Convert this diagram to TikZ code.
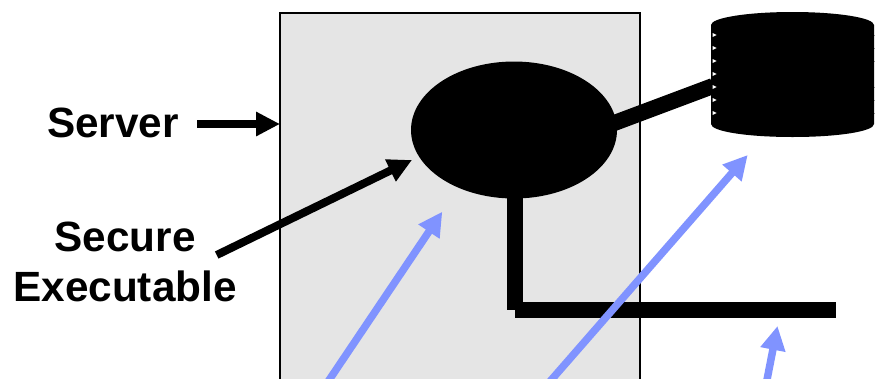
\documentclass[tikz,border=0pt]{standalone}
\usepackage{fontspec}
\setmainfont{Liberation Sans}
\usetikzlibrary{arrows.meta,shapes.geometric}
\definecolor{panelgray}{HTML}{E5E5E5}
\definecolor{arrowblue}{HTML}{8093FF}
\tikzset{
  lbl/.style={font=\fontsize{42.3}{50}\selectfont\bfseries,align=center,inner sep=0pt},
  thick link/.style={line width=16pt,black},
  black arrow/.style={line width=8pt,black,-{Triangle[length=24pt,width=23pt]}},
  blue arrow/.style={line width=7.5pt,arrowblue,-{Triangle[length=24pt,width=24pt]}},
  tick/.style={fill=white,draw=none},
  edge tick/.style={draw=black!45,line width=0.7pt}
}
\begin{document}
\begin{tikzpicture}[x=1pt,y=-1pt]
\useasboundingbox (0,0) rectangle (875,378);
\begin{scope}
\clip (0,0) rectangle (875,378);
\fill[panelgray] (280,13) rectangle (640,390);
\draw[black,line width=1.3pt] (280,390) -- (280,13) -- (640,13) -- (640,390);
\node[ellipse,fill=black,minimum width=206pt,minimum height=137pt,inner sep=0pt] (exe) at (514,130) {};
\coordinate (corner) at (515,310);
\coordinate (busend) at (835.5,310);
\coordinate (dbport) at (713,86);
\coordinate (exeport) at (605,126.5);
\draw[thick link] (exe.south -| corner) ++(0,-4) coordinate (vtop) -- (corner);
\draw[thick link] (corner) -- (busend);
\draw[thick link] (exeport) -- (dbport);
\fill[black] (711,25) .. controls (711,17.8) and (747.5,12) .. (792.5,12) .. controls (837.5,12) and (874,17.8) .. (874,25)
  -- (874,124) .. controls (874,131.5) and (837.5,137) .. (792.5,137) .. controls (747.5,137) and (711,131.5) .. (711,124) -- cycle;
\foreach \y in {35,48,61,74,87,100,113}
  \fill[tick] (712.5,\y-2) -- (716.5,\y) -- (712.5,\y+2) -- cycle;
\foreach \y in {35,48,61,87,100,113}
  \draw[edge tick] (874,\y) -- (875,\y);
\node[lbl,anchor=center] (srv) at (113,123) {Server};
\node[lbl,anchor=center] (sec) at (125,261.5) {Secure\\Executable};
\coordinate (srvs) at (197,124);
\coordinate (srvt) at (280,124);
\coordinate (secs) at (216.7,255);
\coordinate (sect) at (412,160);
\draw[black arrow] (srvs) -- (srvt);
\draw[black arrow] (secs) -- (sect);
\coordinate (b1s) at (322.4,390);
\coordinate (b1t) at (442.3,211.7);
\coordinate (b2s) at (542.5,390);
\coordinate (b2t) at (747.7,155);
\coordinate (b3s) at (765,390);
\coordinate (b3t) at (777.5,326);
\draw[blue arrow] (b1s) -- (b1t);
\draw[blue arrow] (b2s) -- (b2t);
\draw[blue arrow] (b3s) -- (b3t);
\end{scope}
\end{tikzpicture}
\end{document}
